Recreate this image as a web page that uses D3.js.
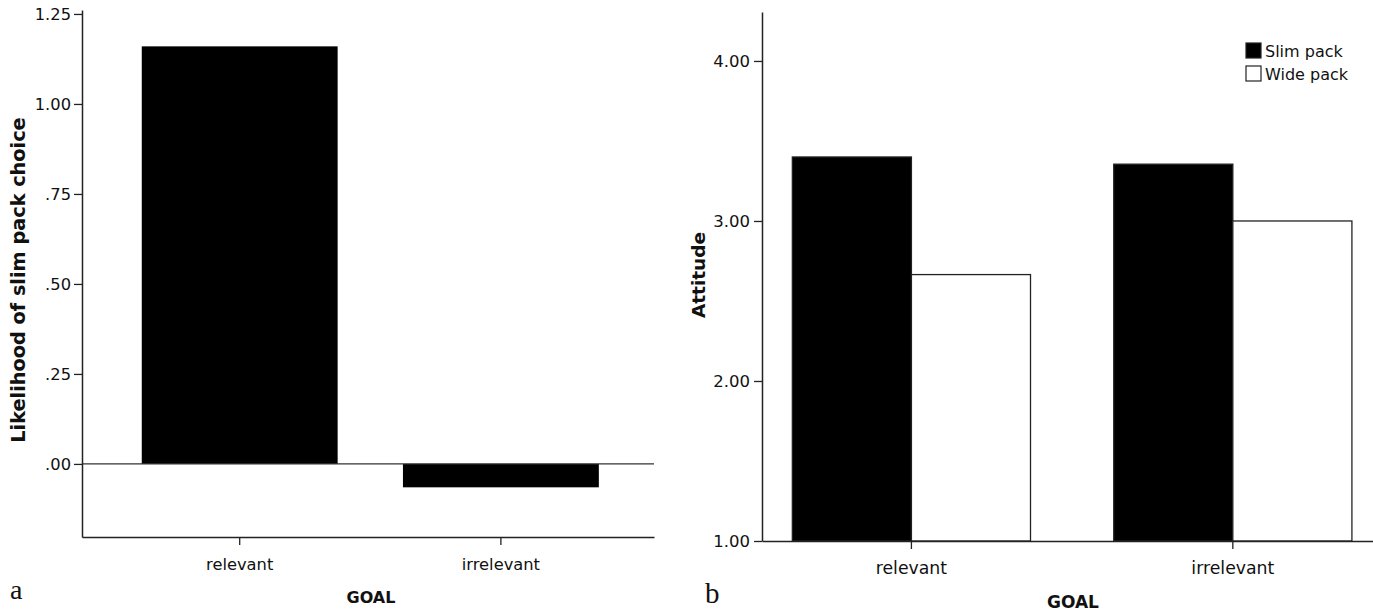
<!DOCTYPE html>
<html><head><meta charset="utf-8">
<script src="https://cdn.jsdelivr.net/npm/d3@7"></script>
<style>
body{margin:0;background:#fff;}
svg text{font-family:"DejaVu Sans","Noto Sans",sans-serif;fill:#111;}
</style></head>
<body><svg id="c" width="1373" height="612"></svg>
<script>
// ---- data ----
const goals = ["relevant", "irrelevant"];
const likelihood = [1.16, -0.065];
const packs = ["Slim pack", "Wide pack"];
const slimAttitude = [3.40, 3.355];
const wideAttitude = [2.665, 3.00];
const leftTicks = [0, 0.25, 0.5, 0.75, 1.0, 1.25];
const rightTicks = [1, 2, 3, 4];

const svg = d3.select("#c");
const fmtLeft = v => d3.format(".2f")(v).replace(/^0\./, ".").replace(/^-0\./, "-.");
const fmtRight = d3.format(".2f");

function styleAxis(a, fs) {
  a.select(".domain").attr("stroke", "#222").attr("stroke-width", 1.5);
  a.selectAll(".tick line").attr("stroke", "#222").attr("stroke-width", 1.3);
  a.selectAll("text").attr("font-size", fs).attr("fill", "#111");
}

// ---- panel a ----
{
  const x0 = 82, x1 = 654, yTop = 10, yBot = 537;
  const y = d3.scaleLinear().domain([-0.203, 1.261]).range([yBot, yTop]);
  const x = d3.scaleBand().domain(goals).range([x0, x1]).paddingInner(0.25).paddingOuter(0.22).align(0.52);
  const g = svg.append("g");
  g.selectAll("rect.bar").data(goals).join("rect")
    .attr("x", d => x(d)).attr("width", x.bandwidth())
    .attr("y", (d, i) => y(Math.max(0, likelihood[i])))
    .attr("height", (d, i) => Math.abs(y(likelihood[i]) - y(0)))
    .attr("fill", "#000");
  g.append("line").attr("x1", x0).attr("x2", x1).attr("y1", y(0)).attr("y2", y(0)).attr("stroke", "#333").attr("stroke-width", 1.3);
  const ya = g.append("g").attr("transform", `translate(${x0},0)`)
    .call(d3.axisLeft(y).tickValues(leftTicks).tickFormat(fmtLeft).tickSize(8).tickPadding(3).tickSizeOuter(0));
  styleAxis(ya, 16.3);
  const xa = g.append("g").attr("transform", `translate(0,${yBot})`)
    .call(d3.axisBottom(x).tickSize(8).tickPadding(13).tickSizeOuter(0));
  styleAxis(xa, 16.3);
  g.append("text").attr("transform", `translate(25,280) rotate(-90)`)
    .attr("text-anchor", "middle").attr("font-size", 19.3).attr("font-weight", "bold").text("Likelihood of slim pack choice");
  g.append("text").attr("x", 371).attr("y", 603).attr("text-anchor", "middle")
    .attr("font-size", 16).attr("font-weight", "bold").text("GOAL");
  g.append("text").attr("x", 10).attr("y", 599).attr("font-size", 28)
    .style("font-family", "'Liberation Serif',serif").text("a");
}

// ---- panel b ----
{
  const x0 = 762, x1 = 1373, yTop = 12, yBot = 541;
  const y = d3.scaleLinear().domain([1, 4.306]).range([yBot, yTop]);
  const x = d3.scaleBand().domain(goals).range([x0, x1]).paddingInner(0.259).paddingOuter(0.08).align(0.59);
  const xs = d3.scaleBand().domain(packs).range([0, x.bandwidth()]);
  const vals = [slimAttitude, wideAttitude];
  const g = svg.append("g");
  goals.forEach((gl, gi) => {
    g.selectAll(null).data(packs).join("rect")
      .attr("x", d => x(gl) + xs(d)).attr("width", xs.bandwidth())
      .attr("y", (d, pi) => y(vals[pi][gi]))
      .attr("height", (d, pi) => y(1) - y(vals[pi][gi]))
      .attr("fill", (d, pi) => pi === 0 ? "#000" : "#fff")
      .attr("stroke", "#222").attr("stroke-width", 1.3);
  });
  const ya = g.append("g").attr("transform", `translate(${x0},0)`)
    .call(d3.axisLeft(y).tickValues(rightTicks).tickFormat(fmtRight).tickSize(8).tickPadding(4).tickSizeOuter(0));
  styleAxis(ya, 16.5);
  const xa = g.append("g").attr("transform", `translate(0,${yBot})`)
    .call(d3.axisBottom(x).tickSize(8).tickPadding(13).tickSizeOuter(0));
  styleAxis(xa, 17.3);
  g.append("text").attr("transform", `translate(705,275) rotate(-90)`)
    .attr("text-anchor", "middle").attr("font-size", 18.5).attr("font-weight", "bold").text("Attitude");
  g.append("text").attr("x", 1073).attr("y", 608).attr("text-anchor", "middle")
    .attr("font-size", 17).attr("font-weight", "bold").text("GOAL");
  g.append("text").attr("x", 705).attr("y", 603).attr("font-size", 29)
    .style("font-family", "'Liberation Serif',serif").text("b");
  // legend
  const lg = g.append("g").attr("transform", "translate(1246,43)");
  packs.forEach((p, i) => {
    lg.append("rect").attr("x", 0).attr("y", i * 23).attr("width", 15).attr("height", 15)
      .attr("fill", i === 0 ? "#000" : "#fff").attr("stroke", "#222").attr("stroke-width", 1.2);
    lg.append("text").attr("x", 19).attr("y", i * 23 + 14).attr("font-size", 16).text(p);
  });
}
</script></body></html>
